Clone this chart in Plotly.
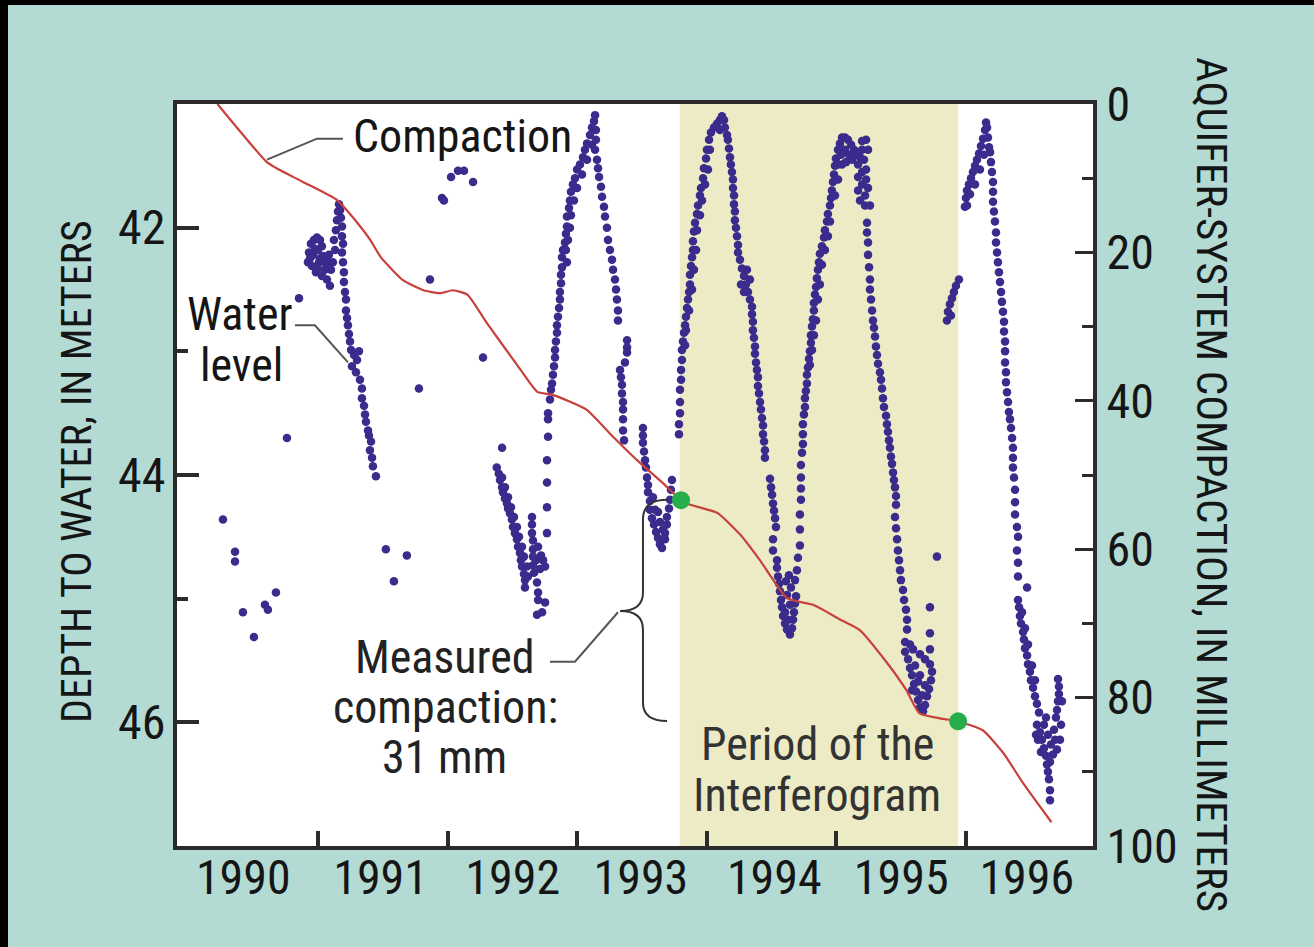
import plotly.graph_objects as go

# ---------------- axis ticks / labels ----------------
year_labels = ["1990", "1991", "1992", "1993", "1994", "1995", "1996"]
year_label_pos = [1990.42, 1991.48, 1992.5, 1993.49, 1994.52, 1995.5, 1996.47]
year_boundaries = [1991, 1992, 1993, 1994, 1995, 1996]
depth_major = [42, 44, 46]
depth_minor = [43, 45]
comp_major = [0, 20, 40, 60, 80, 100]
comp_minor = [10, 30, 50, 70, 90]

# ---------------- aquifer-system compaction (mm) ----------------
compaction_year = [1990.22, 1990.60, 1990.68, 1990.88, 1991.14, 1991.30, 1991.40, 1991.48,
                   1991.65, 1991.81, 1991.94, 1992.04, 1992.15, 1992.30, 1992.56, 1992.69,
                   1992.81, 1993.07, 1993.25, 1993.46, 1993.66, 1993.80, 1993.87, 1994.08,
                   1994.26, 1994.41, 1994.62, 1994.82, 1995.03, 1995.18, 1995.39, 1995.54,
                   1995.64, 1995.80, 1995.94, 1996.13, 1996.29, 1996.44, 1996.66]
compaction_mm = [0.0, 7.8, 8.7, 10.5, 12.9, 16.0, 18.3, 20.6,
                 23.7, 25.1, 25.5, 25.1, 25.7, 29.5, 35.8, 38.8,
                 39.2, 41.2, 44.4, 48.0, 51.1, 53.4, 54.0, 55.1,
                 58.1, 61.5, 66.6, 67.5, 69.5, 70.9, 75.3, 79.0,
                 82.1, 82.8, 83.2, 84.4, 87.5, 91.5, 96.8]

# period of the interferogram and measured compaction at its ends
interferogram_start = 1993.79
interferogram_end = 1995.94
interferogram_dates = [1993.80, 1995.94]
interferogram_comp = [53.4, 83.2]

# ---------------- depth to water (m), (decimal year, depth) ----------------
wl_1990 = [(1990.263, 44.36), (1990.356, 44.62), (1990.356, 44.70), (1990.417, 45.11),
           (1990.502, 45.31), (1990.587, 45.05), (1990.610, 45.09), (1990.672, 44.95),
           (1990.757, 43.70), (1990.850, 42.57)]

wl_1991 = [(1990.919, 42.28), (1990.927, 42.20), (1990.942, 42.13), (1990.965, 42.10),
           (1990.989, 42.08), (1991.012, 42.10), (1991.027, 42.15), (1990.996, 42.18),
           (1990.958, 42.22), (1990.950, 42.31), (1990.981, 42.36), (1991.004, 42.28),
           (1991.035, 42.23), (1991.058, 42.29), (1991.027, 42.39), (1991.066, 42.42),
           (1991.089, 42.47), (1991.097, 42.34), (1991.081, 42.22), (1991.112, 42.28),
           (1991.128, 42.18), (1991.120, 42.10), (1991.135, 42.02), (1991.143, 41.94),
           (1991.151, 41.87), (1991.159, 41.81), (1991.167, 41.86), (1991.174, 41.92),
           (1991.182, 41.99), (1991.182, 42.07), (1991.190, 42.13), (1991.182, 42.20),
           (1991.190, 42.28), (1991.197, 42.36), (1991.197, 42.44), (1991.205, 42.52),
           (1991.213, 42.58), (1991.213, 42.67), (1991.221, 42.73), (1991.228, 42.79),
           (1991.236, 42.86), (1991.244, 42.92), (1991.252, 42.99), (1991.275, 43.03),
           (1991.298, 43.07), (1991.259, 43.12), (1991.290, 43.17), (1991.313, 43.00),
           (1991.321, 43.23), (1991.336, 43.30), (1991.336, 43.38), (1991.352, 43.44),
           (1991.360, 43.51), (1991.367, 43.57), (1991.383, 43.64), (1991.390, 43.68),
           (1991.406, 43.73), (1991.398, 43.80), (1991.414, 43.86), (1991.421, 43.93),
           (1991.444, 44.01), (1990.973, 42.17), (1991.012, 42.25), (1991.050, 42.34),
           (1990.996, 42.33), (1991.073, 42.28), (1990.935, 42.25)]

wl_1991_sparse = [(1991.521, 44.60), (1991.583, 44.86), (1991.683, 44.65), (1991.776, 43.30),
                  (1991.861, 42.42), (1991.954, 41.76), (1991.969, 41.78), (1992.024, 41.59),
                  (1992.078, 41.54), (1992.124, 41.54), (1992.194, 41.63), (1992.271, 43.05),
                  (1992.418, 43.78)]

wl_1992_low = [(1992.377, 43.94), (1992.393, 43.99), (1992.402, 44.04), (1992.418, 44.10),
               (1992.425, 44.14), (1992.440, 44.19), (1992.456, 44.23), (1992.464, 44.27),
               (1992.479, 44.31), (1992.494, 44.36), (1992.502, 44.42), (1992.517, 44.47),
               (1992.533, 44.52), (1992.541, 44.58), (1992.556, 44.63), (1992.564, 44.69),
               (1992.572, 44.74), (1992.587, 44.80), (1992.595, 44.85), (1992.595, 44.91),
               (1992.418, 44.02), (1992.440, 44.10), (1992.464, 44.18), (1992.487, 44.26),
               (1992.510, 44.34), (1992.533, 44.42), (1992.549, 44.50), (1992.572, 44.58),
               (1992.587, 44.66), (1992.610, 44.74), (1992.618, 44.82),
               (1992.649, 44.34), (1992.649, 44.40), (1992.649, 44.47), (1992.657, 44.53),
               (1992.657, 44.60), (1992.657, 44.66), (1992.657, 44.73), (1992.665, 44.79),
               (1992.688, 44.87), (1992.696, 44.95), (1992.696, 45.01), (1992.727, 45.11),
               (1992.688, 45.13), (1992.696, 44.58), (1992.719, 44.65), (1992.735, 44.69),
               (1992.750, 44.74), (1992.711, 44.76), (1992.680, 44.69), (1992.750, 45.03)]

wl_1992_peak = [(1992.765, 44.47), (1992.765, 44.26), (1992.765, 44.06), (1992.765, 43.88),
                (1992.773, 43.69), (1992.773, 43.55), (1992.773, 43.50), (1992.788, 43.39),
                (1992.796, 43.31), (1992.804, 43.26), (1992.811, 43.19), (1992.819, 43.12),
                (1992.827, 43.05), (1992.827, 42.99), (1992.834, 42.92), (1992.842, 42.85),
                (1992.842, 42.79), (1992.850, 42.72), (1992.858, 42.65), (1992.865, 42.58),
                (1992.865, 42.52), (1992.873, 42.45), (1992.873, 42.38), (1992.881, 42.32),
                (1992.881, 42.24), (1992.888, 42.18), (1992.904, 42.12), (1992.911, 42.05),
                (1992.919, 41.99), (1992.919, 41.91), (1992.935, 41.84), (1992.942, 41.78),
                (1992.950, 41.71), (1992.965, 41.65), (1992.981, 41.60), (1992.997, 41.53),
                (1993.020, 41.49), (1993.043, 41.43), (1993.058, 41.37), (1993.074, 41.32),
                (1993.097, 41.25), (1993.112, 41.19), (1993.128, 41.14), (1993.136, 41.09),
                (1992.911, 42.18), (1992.919, 42.28), (1992.927, 42.10), (1992.942, 42.00),
                (1992.950, 41.90), (1992.973, 41.78), (1992.997, 41.68), (1993.035, 41.57),
                (1993.074, 41.45), (1993.112, 41.33), (1993.143, 41.21), (1993.143, 41.29),
                (1993.136, 41.37),
                (1993.151, 41.45), (1993.159, 41.52), (1993.167, 41.59), (1993.182, 41.67),
                (1993.190, 41.75), (1993.205, 41.83), (1993.213, 41.91), (1993.228, 42.00),
                (1993.236, 42.10), (1993.251, 42.18), (1993.267, 42.26), (1993.275, 42.34),
                (1993.290, 42.42), (1993.298, 42.50), (1993.305, 42.58), (1993.313, 42.67),
                (1993.313, 42.75), (1993.383, 42.91), (1993.383, 42.97), (1993.383, 43.01),
                (1993.367, 43.09), (1993.329, 43.15), (1993.336, 43.21), (1993.344, 43.27),
                (1993.344, 43.34), (1993.352, 43.41), (1993.352, 43.47), (1993.352, 43.55),
                (1993.352, 43.64), (1993.360, 43.72)]

wl_1993_low = [(1993.506, 43.62), (1993.506, 43.68), (1993.506, 43.74), (1993.514, 43.81),
               (1993.522, 43.88), (1993.529, 43.94), (1993.537, 44.02), (1993.545, 44.08),
               (1993.545, 44.14), (1993.560, 44.21), (1993.560, 44.28), (1993.576, 44.35),
               (1993.591, 44.40), (1993.607, 44.46), (1993.622, 44.51), (1993.637, 44.56),
               (1993.653, 44.59), (1993.676, 44.52), (1993.676, 44.47), (1993.691, 44.40),
               (1993.691, 44.34), (1993.707, 44.27), (1993.715, 44.20), (1993.722, 44.12),
               (1993.730, 44.04), (1993.599, 44.28), (1993.637, 44.38), (1993.661, 44.44),
               (1993.583, 44.18), (1993.622, 44.30)]

wl_1993_peak = [(1993.784, 43.67), (1993.784, 43.59), (1993.792, 43.50), (1993.792, 43.41),
                (1993.792, 43.31), (1993.800, 43.23), (1993.800, 43.15), (1993.807, 43.07),
                (1993.807, 42.99), (1993.815, 42.92), (1993.823, 42.85), (1993.831, 42.79),
                (1993.838, 42.72), (1993.846, 42.65), (1993.854, 42.58), (1993.862, 42.52),
                (1993.869, 42.46), (1993.869, 42.38), (1993.877, 42.31), (1993.885, 42.24),
                (1993.892, 42.18), (1993.892, 42.11), (1993.900, 42.03), (1993.908, 41.96),
                (1993.923, 41.89), (1993.931, 41.82), (1993.946, 41.74), (1993.954, 41.68),
                (1993.970, 41.60), (1993.977, 41.52), (1993.993, 41.44), (1994.000, 41.37),
                (1994.016, 41.29), (1994.031, 41.23), (1994.054, 41.19), (1994.077, 41.16),
                (1994.100, 41.13), (1994.116, 41.10), (1994.132, 41.13), (1994.139, 41.19),
                (1994.155, 41.25), (1993.838, 42.83), (1993.862, 42.67), (1993.885, 42.50),
                (1993.900, 42.34), (1993.916, 42.18), (1993.923, 42.02), (1993.946, 41.90),
                (1993.962, 41.78), (1993.985, 41.65), (1994.008, 41.53), (1994.023, 41.37),
                (1994.100, 41.21), (1993.831, 42.95)]

wl_1994_fall = [(1994.162, 41.29), (1994.170, 41.36), (1994.178, 41.43), (1994.185, 41.49),
                (1994.193, 41.55), (1994.201, 41.61), (1994.201, 41.68), (1994.209, 41.74),
                (1994.209, 41.81), (1994.216, 41.87), (1994.216, 41.94), (1994.224, 42.00),
                (1994.232, 42.07), (1994.240, 42.14), (1994.240, 42.20), (1994.255, 42.26),
                (1994.270, 42.33), (1994.286, 42.39), (1994.301, 42.46), (1994.317, 42.52),
                (1994.332, 42.58), (1994.348, 42.64), (1994.286, 42.52), (1994.263, 42.46),
                (1994.309, 42.34), (1994.332, 42.42), (1994.348, 42.70), (1994.355, 42.76),
                (1994.355, 42.83), (1994.363, 42.89), (1994.371, 42.96), (1994.371, 43.02),
                (1994.379, 43.09), (1994.386, 43.15), (1994.394, 43.21), (1994.394, 43.28),
                (1994.402, 43.34), (1994.410, 43.41), (1994.417, 43.47), (1994.425, 43.54),
                (1994.433, 43.60), (1994.433, 43.67), (1994.441, 43.73), (1994.448, 43.80),
                (1994.448, 43.86), (1994.487, 44.03), (1994.495, 44.10), (1994.503, 44.16),
                (1994.510, 44.23), (1994.518, 44.29), (1994.526, 44.35), (1994.533, 44.42),
                (1994.510, 44.52), (1994.510, 44.61), (1994.541, 44.69),
                (1994.541, 44.75), (1994.549, 44.82), (1994.557, 44.88), (1994.564, 44.94),
                (1994.572, 45.01), (1994.580, 45.07), (1994.588, 45.14), (1994.603, 45.20),
                (1994.618, 45.25), (1994.641, 45.29), (1994.657, 45.24), (1994.665, 45.17),
                (1994.672, 45.11), (1994.680, 45.04), (1994.688, 44.98), (1994.641, 45.05),
                (1994.618, 44.97), (1994.610, 44.86), (1994.649, 44.91), (1994.633, 44.81),
                (1994.680, 44.85), (1994.695, 44.77), (1994.603, 45.11), (1994.626, 45.17)]

wl_1994_rise = [(1994.703, 44.67), (1994.718, 44.57), (1994.718, 44.44), (1994.718, 44.32),
                (1994.726, 44.20), (1994.726, 44.11), (1994.726, 44.02), (1994.726, 43.92),
                (1994.734, 43.82), (1994.741, 43.75), (1994.741, 43.67), (1994.741, 43.59),
                (1994.749, 43.51), (1994.757, 43.45), (1994.757, 43.38), (1994.764, 43.32),
                (1994.772, 43.26), (1994.772, 43.19), (1994.780, 43.13), (1994.788, 43.06),
                (1994.795, 43.00), (1994.803, 42.93), (1994.803, 42.87), (1994.811, 42.80),
                (1994.818, 42.74), (1994.826, 42.67), (1994.826, 42.61), (1994.834, 42.54),
                (1994.842, 42.48), (1994.849, 42.41), (1994.857, 42.34), (1994.865, 42.28),
                (1994.872, 42.21), (1994.888, 42.15), (1994.904, 42.08), (1994.911, 42.02),
                (1994.927, 41.95), (1994.934, 41.89), (1994.950, 41.82), (1994.958, 41.76),
                (1994.965, 41.70), (1994.973, 41.63), (1994.981, 41.57), (1994.989, 41.50),
                (1994.996, 41.44), (1995.012, 41.37), (1995.027, 41.32), (1995.043, 41.27),
                (1995.066, 41.27), (1995.089, 41.29), (1995.113, 41.33), (1995.136, 41.37),
                (1995.097, 41.41), (1995.066, 41.37), (1995.035, 41.41), (1995.012, 41.49),
                (1995.043, 41.49), (1995.074, 41.47), (1995.120, 41.45), (1995.151, 41.41),
                (1995.167, 41.49), (1995.182, 41.43), (1995.198, 41.37), (1995.213, 41.45),
                (1995.167, 41.59), (1995.198, 41.55), (1995.229, 41.53), (1995.198, 41.65),
                (1995.221, 41.74), (1995.167, 41.70), (1995.182, 41.78), (1995.221, 41.82),
                (1995.259, 41.82), (1995.229, 41.61), (1995.244, 41.68), (1995.244, 41.37),
                (1995.229, 41.29), (1995.198, 41.30),
                (1994.795, 43.11), (1994.811, 42.99), (1994.826, 42.87), (1994.842, 42.75),
                (1994.857, 42.58), (1994.872, 42.46), (1994.888, 42.30), (1994.911, 42.18),
                (1994.934, 42.07), (1994.950, 41.95), (1994.989, 41.74), (1995.012, 41.61)]

wl_1995_fall = [(1995.236, 41.96), (1995.236, 42.04), (1995.244, 42.12), (1995.244, 42.22),
                (1995.252, 42.32), (1995.259, 42.42), (1995.259, 42.50), (1995.267, 42.58),
                (1995.275, 42.67), (1995.282, 42.75), (1995.290, 42.81), (1995.298, 42.88),
                (1995.305, 42.96), (1995.313, 43.03), (1995.321, 43.10), (1995.336, 43.17),
                (1995.344, 43.23), (1995.352, 43.30), (1995.359, 43.38), (1995.367, 43.45),
                (1995.383, 43.52), (1995.390, 43.59), (1995.398, 43.65), (1995.406, 43.72),
                (1995.413, 43.78), (1995.421, 43.85), (1995.429, 43.91), (1995.437, 43.98),
                (1995.444, 44.04), (1995.452, 44.10), (1995.460, 44.17), (1995.460, 44.24),
                (1995.452, 44.34), (1995.460, 44.43), (1995.468, 44.52), (1995.475, 44.61),
                (1995.483, 44.69), (1995.491, 44.77), (1995.498, 44.85), (1995.514, 44.93),
                (1995.522, 45.01), (1995.537, 45.09), (1995.545, 45.17), (1995.545, 45.25),
                (1995.530, 45.35), (1995.530, 45.43), (1995.553, 45.49), (1995.568, 45.56),
                (1995.584, 45.62), (1995.599, 45.69), (1995.614, 45.75), (1995.630, 45.82),
                (1995.645, 45.88), (1995.669, 45.91), (1995.684, 45.86), (1995.699, 45.79),
                (1995.715, 45.73), (1995.730, 45.66), (1995.738, 45.59), (1995.722, 45.53),
                (1995.684, 45.49), (1995.645, 45.45), (1995.591, 45.41), (1995.568, 45.37),
                (1995.607, 45.54), (1995.645, 45.62), (1995.684, 45.70), (1995.584, 45.74),
                (1995.661, 45.78), (1995.630, 45.67), (1995.722, 45.41), (1995.722, 45.28),
                (1995.722, 45.07), (1995.776, 44.66)]

wl_1995_end = [(1995.853, 42.75), (1995.861, 42.68), (1995.876, 42.62), (1995.892, 42.57),
               (1995.907, 42.52), (1995.923, 42.47), (1995.946, 42.42), (1995.884, 42.71)]

wl_1996 = [(1995.992, 41.83), (1996.000, 41.76), (1996.008, 41.70), (1996.023, 41.65),
           (1996.039, 41.60), (1996.054, 41.55), (1996.070, 41.50), (1996.085, 41.45),
           (1996.101, 41.40), (1996.116, 41.34), (1996.132, 41.28), (1996.147, 41.21),
           (1996.155, 41.15), (1996.163, 41.19), (1996.170, 41.27), (1996.178, 41.35),
           (1996.031, 41.73), (1996.070, 41.65), (1996.108, 41.53), (1996.139, 41.41),
           (1996.008, 41.82),
           (1996.186, 41.39), (1996.193, 41.47), (1996.201, 41.55), (1996.209, 41.63),
           (1996.209, 41.71), (1996.209, 41.79), (1996.216, 41.87), (1996.224, 41.95),
           (1996.232, 42.04), (1996.232, 42.12), (1996.240, 42.20), (1996.247, 42.28),
           (1996.255, 42.36), (1996.263, 42.44), (1996.271, 42.52), (1996.278, 42.60),
           (1996.286, 42.68), (1996.294, 42.76), (1996.294, 42.84), (1996.302, 42.92),
           (1996.302, 43.00), (1996.302, 43.09), (1996.309, 43.17), (1996.309, 43.25),
           (1996.317, 43.33), (1996.325, 43.41), (1996.332, 43.49), (1996.340, 43.55),
           (1996.348, 43.62), (1996.356, 43.70), (1996.363, 43.78), (1996.363, 43.86),
           (1996.363, 43.94), (1996.371, 44.02), (1996.379, 44.12), (1996.379, 44.22),
           (1996.379, 44.32), (1996.394, 44.42), (1996.402, 44.50), (1996.394, 44.61),
           (1996.402, 44.71), (1996.402, 44.82), (1996.472, 44.91), (1996.402, 45.01),
           (1996.410, 45.07), (1996.417, 45.14), (1996.425, 45.20), (1996.441, 45.27),
           (1996.448, 45.33), (1996.456, 45.40), (1996.472, 45.46), (1996.479, 45.53),
           (1996.494, 45.59), (1996.502, 45.66), (1996.518, 45.72), (1996.533, 45.79),
           (1996.548, 45.85), (1996.564, 45.92), (1996.433, 45.11), (1996.456, 45.24),
           (1996.479, 45.37), (1996.510, 45.54), (1996.533, 45.66),
           (1996.548, 46.02), (1996.571, 46.08), (1996.587, 46.14), (1996.602, 46.21),
           (1996.618, 46.27), (1996.626, 46.34), (1996.633, 46.40), (1996.641, 46.46),
           (1996.649, 46.55), (1996.649, 46.63), (1996.556, 46.14), (1996.579, 46.24),
           (1996.541, 46.10), (1996.602, 46.02), (1996.633, 46.10), (1996.656, 46.18),
           (1996.672, 46.26), (1996.649, 46.32), (1996.680, 46.06), (1996.618, 45.96),
           (1996.695, 45.96), (1996.703, 45.90), (1996.711, 45.83), (1996.718, 45.77),
           (1996.718, 45.71), (1996.711, 45.65), (1996.734, 46.02), (1996.741, 45.83),
           (1996.726, 46.14), (1996.703, 46.22), (1996.688, 46.14)]

water_segments = [wl_1990, wl_1991, wl_1991_sparse, wl_1992_low, wl_1992_peak, wl_1993_low,
                  wl_1993_peak, wl_1994_fall, wl_1994_rise, wl_1995_fall, wl_1995_end, wl_1996]
water_year = [p[0] for seg in water_segments for p in seg]
water_depth = [p[1] for seg in water_segments for p in seg]

# ---------------- styling ----------------
FONT = "Liberation Sans Narrow, Roboto Condensed, DejaVu Sans Condensed, Arial Narrow, sans-serif"
TEAL = "#b3dad3"
AXIS = "#2b2b2b"
TXT = "#151515"
DOT = "#3a2b8d"
RED = "#c8403c"
GREEN = "#27ae4a"
SHADE = "#ecebc5"
LEADER = "#555555"

fig = go.Figure()

fig.add_trace(go.Scatter(
    x=water_year, y=water_depth, mode="markers", yaxis="y",
    marker=dict(size=8.5, color=DOT, line=dict(width=0)),
    showlegend=False, hoverinfo="skip"))

fig.add_trace(go.Scatter(
    x=compaction_year, y=compaction_mm, mode="lines", yaxis="y2",
    line=dict(color=RED, width=2.2, shape="spline", smoothing=0.5),
    showlegend=False, hoverinfo="skip"))

fig.add_trace(go.Scatter(
    x=interferogram_dates, y=interferogram_comp, mode="markers", yaxis="y2",
    marker=dict(size=18, color=GREEN, line=dict(width=0)),
    showlegend=False, hoverinfo="skip", cliponaxis=False))

shapes = []
# period of the interferogram
shapes.append(dict(type="rect", xref="x", yref="paper", x0=interferogram_start, x1=interferogram_end,
                   y0=0, y1=1, fillcolor=SHADE, line=dict(width=0), layer="below"))
# black frame along the top and left of the picture
shapes.append(dict(type="rect", xref="paper", yref="paper", x0=-0.1935, x1=-0.1845, y0=-0.14, y1=1.145,
                   fillcolor="black", line=dict(width=0), layer="below"))
shapes.append(dict(type="rect", xref="paper", yref="paper", x0=-0.1935, x1=1.245, y0=1.1334, y1=1.145,
                   fillcolor="black", line=dict(width=0), layer="below"))
# leader lines
shapes.append(dict(type="path", xref="x", yref="y",
                   path="M 1990.603 41.45 L 1990.989 41.28 L 1991.189 41.28",
                   line=dict(color=LEADER, width=2)))
shapes.append(dict(type="path", xref="x", yref="y",
                   path="M 1990.819 42.79 L 1990.973 42.79 L 1991.228 43.09",
                   line=dict(color=LEADER, width=2)))
shapes.append(dict(type="path", xref="x", yref="y",
                   path="M 1992.788 45.51 L 1992.981 45.51 L 1993.313 45.11",
                   line=dict(color=LEADER, width=2)))
# curly brace spanning the interferogram compaction
shapes.append(dict(type="path", xref="x", yref="y",
                   path=("M 1993.692 44.20 Q 1993.506 44.20 1993.506 44.36 L 1993.506 44.95 "
                         "Q 1993.506 45.10 1993.329 45.10 Q 1993.506 45.10 1993.506 45.25 "
                         "L 1993.506 45.84 Q 1993.506 45.99 1993.692 45.99"),
                   line=dict(color="#333333", width=2)))

annotations = []
def label(text, x, y, size=46, color=TXT, height=None):
    ann = dict(text=text, x=x, y=y, xref="x", yref="y", showarrow=False,
               xanchor="center", yanchor="middle", valign="middle",
               font=dict(family=FONT, size=size, color=color))
    if height is not None:
        ann["height"] = height
    annotations.append(ann)

label("Compaction", 1992.112, 41.256)
label("Water", 1990.394, 42.695, height=44)
label("level", 1990.406, 43.110, height=44)
label("Measured", 1991.977, 45.470, color="#222222", height=44)
label("compaction:", 1991.982, 45.875, color="#222222")
label("31 mm", 1991.970, 46.280, color="#222222", height=44)
label("Period of the", 1994.854, 46.175, color="#333333", height=44)
label("Interferogram", 1994.847, 46.590, color="#333333")

annotations.append(dict(text="DEPTH TO WATER, IN METERS", xref="paper", yref="paper",
                        x=-0.1092, y=0.5054, textangle=-90, showarrow=False,
                        xanchor="center", yanchor="middle",
                        font=dict(family=FONT, size=42, color=TXT)))
annotations.append(dict(text="AQUIFER-SYSTEM COMPACTION, IN MILLIMETERS", xref="paper", yref="paper",
                        x=1.1299, y=0.4865, textangle=90, showarrow=False,
                        xanchor="center", yanchor="middle",
                        font=dict(family=FONT, size=43, color=TXT)))

tickfont = dict(family=FONT, size=48, color=TXT)

fig.update_layout(
    width=1314, height=947,
    margin=dict(l=177, r=221, t=104, b=101, pad=0),
    paper_bgcolor=TEAL, plot_bgcolor="white",
    shapes=shapes, annotations=annotations,
    xaxis=dict(range=[1989.908, 1996.981], showgrid=False, zeroline=False,
               showline=True, linecolor=AXIS, linewidth=4, mirror=True,
               tickmode="array", tickvals=year_label_pos, ticktext=year_labels,
               ticks="", tickfont=tickfont, ticklabelstandoff=-14,
               minor=dict(tickmode="array", tickvals=year_boundaries, ticks="inside",
                          ticklen=15, tickwidth=4, tickcolor=AXIS, showgrid=False)),
    yaxis=dict(range=[47, 41], showgrid=False, zeroline=False,
               showline=True, linecolor=AXIS, linewidth=4,
               tickmode="array", tickvals=depth_major, ticktext=[str(v) for v in depth_major],
               ticks="inside", ticklen=22, tickwidth=4, tickcolor=AXIS,
               tickfont=tickfont, ticklabelstandoff=-2,
               minor=dict(tickmode="array", tickvals=depth_minor, ticks="inside",
                          ticklen=11, tickwidth=4, tickcolor=AXIS, showgrid=False)),
    yaxis2=dict(range=[100, 0], overlaying="y", side="right", showgrid=False, zeroline=False,
                showline=True, linecolor=AXIS, linewidth=4,
                tickmode="array", tickvals=comp_major, ticktext=[str(v) for v in comp_major],
                ticks="inside", ticklen=18, tickwidth=3, tickcolor=AXIS,
                tickfont=tickfont, ticklabelstandoff=0,
                minor=dict(tickmode="array", tickvals=comp_minor, ticks="inside",
                           ticklen=11, tickwidth=3, tickcolor=AXIS, showgrid=False)),
)

fig.write_html("out.html")
